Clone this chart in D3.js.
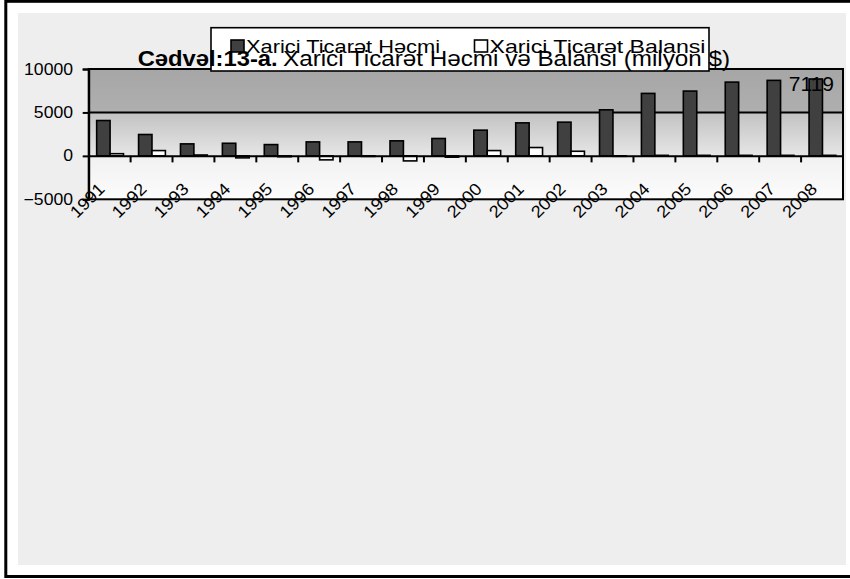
<!DOCTYPE html>
<html>
<head>
<meta charset="utf-8">
<script src="https://cdn.jsdelivr.net/npm/d3@7"></script>
<style>
  html, body { margin: 0; padding: 0; background: #ffffff; }
  svg { display: block; font-family: "Liberation Sans", Arial, sans-serif; }
</style>
</head>
<body>
<svg id="chart" width="850" height="579"></svg>
<script>
const categories = ["1991","1992","1993","1994","1995","1996","1997","1998","1999","2000","2001","2002","2003","2004","2005","2006","2007","2008"];
const seriesNames = ["Xarici Ticarət Həcmi", "Xarici Ticarət Balansi"];
const hecmi = [4070, 2460, 1380, 1450, 1300, 1610, 1610, 1730, 2000, 2960, 3800, 3880, 5300, 7190, 7460, 8490, 8690, 8850];
const balans = [250, 610, 100, -230, -100, -460, -60, -580, -150, 610, 960, 530, -50, 60, 60, 60, 60, 60];
const yTicks = [-5000, 0, 5000, 10000];
const titleBold = "Cədvəl:13-a.";
const titleRest = "Xarici Ticarət Həcmi və Balansi (milyon $)";
const extraLabel = "7119";

const svg = d3.select("#chart");

function stretch(sel, factor) {
  sel.each(function () {
    const w = this.getComputedTextLength();
    d3.select(this).attr("textLength", w * factor).attr("lengthAdjust", "spacingAndGlyphs");
  });
}

// outer frame
svg.append("rect").attr("x", 5.8).attr("y", 1.3).attr("width", 860).attr("height", 575.2)
  .attr("fill", "#ffffff").attr("stroke", "#000").attr("stroke-width", 3);
svg.append("rect").attr("x", 18).attr("y", 13).attr("width", 828).attr("height", 552)
  .attr("fill", "#eeeeee");

const plot = { left: 88.7, right: 843, top: 69, bottom: 199.3 };

const x = d3.scaleBand().domain(categories).range([plot.left, plot.right]).padding(0);
const bw = x.bandwidth();
const xs = d3.scaleBand().domain(seriesNames).range([bw * 0.19, bw * 0.83]).padding(0);
const y = d3.scaleLinear().domain([-5000, 10000]).range([plot.bottom, plot.top]);

// gradient
const defs = svg.append("defs");
const grad = defs.append("linearGradient").attr("id", "bg").attr("x1", 0).attr("y1", 0).attr("x2", 0).attr("y2", 1);
[[0, "#a6a6a6"], [0.33, "#afafaf"], [0.335, "#c2c2c2"], [0.665, "#e6e6e6"], [0.67, "#f1f1f1"], [1, "#fcfcfc"]]
  .forEach(([o, c]) => grad.append("stop").attr("offset", o).attr("stop-color", c));

svg.append("rect").attr("x", plot.left).attr("y", plot.top)
  .attr("width", plot.right - plot.left).attr("height", plot.bottom - plot.top)
  .attr("fill", "url(#bg)");

// gridline at 5000
svg.append("g").selectAll("line").data(yTicks.filter(t => t > 0 && t < 10000)).join("line")
  .attr("x1", plot.left).attr("x2", plot.right)
  .attr("y1", d => y(d)).attr("y2", d => y(d))
  .attr("stroke", "#000").attr("stroke-width", 2);

// bars
const barsG = svg.append("g");
categories.forEach((c, i) => {
  const vals = [hecmi[i], balans[i]];
  vals.forEach((v, k) => {
    const s = seriesNames[k];
    barsG.append("rect")
      .attr("x", x(c) + xs(s))
      .attr("width", xs.bandwidth())
      .attr("y", y(Math.max(0, v)))
      .attr("height", Math.abs(y(v) - y(0)))
      .attr("fill", k === 0 ? "#404040" : "#ffffff")
      .attr("stroke", "#000").attr("stroke-width", 1.6);
  });
});

// plot border
svg.append("rect").attr("x", plot.left).attr("y", plot.top)
  .attr("width", plot.right - plot.left).attr("height", plot.bottom - plot.top)
  .attr("fill", "none").attr("stroke", "#000").attr("stroke-width", 2);

// y axis
const yAxis = d3.axisLeft(y).tickValues(yTicks).tickSize(6).tickPadding(4).tickFormat(d3.format("d"));
const yg = svg.append("g").attr("transform", `translate(${plot.left},0)`).call(yAxis);
yg.select(".domain").attr("stroke", "#000").attr("stroke-width", 2);
yg.selectAll(".tick line").attr("stroke", "#000").attr("stroke-width", 2);
const yLabels = yg.selectAll(".tick text").attr("font-size", 16).attr("fill", "#000")
  .attr("font-family", "'Liberation Sans', Arial, sans-serif").attr("x", -15.7);
stretch(yLabels, 1.1);

// x axis at zero
const xAxis = d3.axisBottom(x).tickSize(0).tickFormat("");
const xg = svg.append("g").attr("transform", `translate(0,${y(0)})`).call(xAxis);
xg.select(".domain").attr("stroke", "#000").attr("stroke-width", 2);
xg.selectAll(".tick").remove();
svg.append("g").selectAll("line").data(categories.slice(1)).join("line")
  .attr("x1", d => x(d)).attr("x2", d => x(d))
  .attr("y1", y(0)).attr("y2", y(0) + 6.5)
  .attr("stroke", "#000").attr("stroke-width", 2);

// x labels
const xLabels = svg.append("g").selectAll("text").data(categories).join("text")
  .attr("transform", d => `translate(${x(d) + bw / 2 - 7},${y(0) + 31}) rotate(-45)`)
  .attr("text-anchor", "end").attr("dominant-baseline", "middle")
  .attr("font-size", 17).attr("fill", "#000")
  .text(d => d);
stretch(xLabels, 1.08);

// legend box
svg.append("rect").attr("x", 211).attr("y", 27.7).attr("width", 498).attr("height", 43.3)
  .attr("fill", "#ffffff").attr("stroke", "#000").attr("stroke-width", 1.6);

// title
svg.append("text").attr("x", 137.7).attr("y", 65.5).attr("font-size", 22).attr("font-weight", "bold")
  .attr("fill", "#000").attr("textLength", 140).attr("lengthAdjust", "spacingAndGlyphs").text(titleBold);
svg.append("text").attr("x", 283).attr("y", 65.5).attr("font-size", 22)
  .attr("fill", "#000").attr("textLength", 447).attr("lengthAdjust", "spacingAndGlyphs").text(titleRest);

// legend items
const legX = [231, 474.5];
const legW = [194, 216];
seriesNames.forEach((s, k) => {
  svg.append("rect").attr("x", legX[k]).attr("y", 40).attr("width", 13).attr("height", 12)
    .attr("fill", k === 0 ? "#404040" : "#ffffff").attr("stroke", "#000").attr("stroke-width", 1.6);
  svg.append("text").attr("x", legX[k] + 15).attr("y", 53).attr("font-size", 19).attr("fill", "#000")
    .attr("textLength", legW[k]).attr("lengthAdjust", "spacingAndGlyphs")
    .text(s);
});

// extra label
svg.append("text").attr("x", 834).attr("y", 90.7).attr("text-anchor", "end")
  .attr("font-size", 21).attr("fill", "#000").text(extraLabel);
</script>
</body>
</html>
